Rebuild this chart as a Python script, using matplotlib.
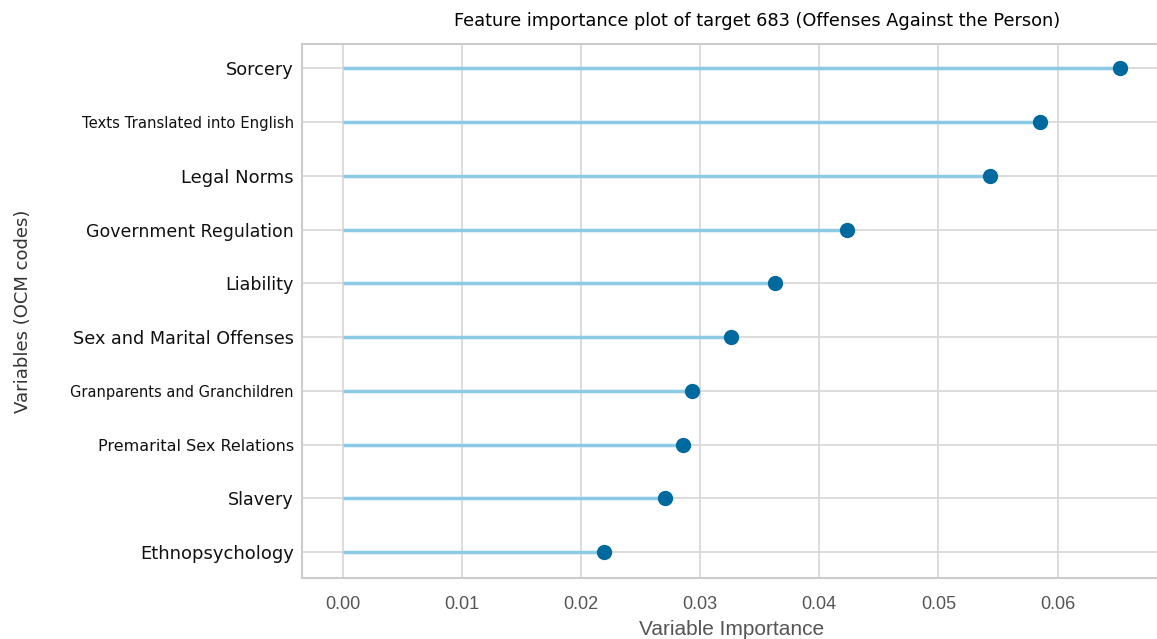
import matplotlib
matplotlib.use('Agg')
import matplotlib.pyplot as plt

features = ['Sorcery', 'Texts Translated into English', 'Legal Norms',
            'Government Regulation', 'Liability', 'Sex and Marital Offenses',
            'Granparents and Granchildren', 'Premarital Sex Relations',
            'Slavery', 'Ethnopsychology']
importance = [0.0652, 0.0585, 0.0543, 0.0423, 0.0363, 0.0326,
              0.0293, 0.0286, 0.0271, 0.0219]
xticks = [0.00, 0.01, 0.02, 0.03, 0.04, 0.05, 0.06]

# label sizes differ in the original picture
label_sizes = [12.8, 10.7, 13, 12.5, 12.6, 12.7, 10.5, 11.5, 12.6, 13]

fig = plt.figure(figsize=(11.57, 6.39), dpi=100)
ax = fig.add_axes([0.261, 0.0955, 0.786, 0.8355])

pos = list(range(len(features)))[::-1]
ax.hlines(pos, 0, importance, color='#8ccbe6', linewidth=2.5, zorder=2)
ax.plot(importance, pos, 'o', color='#00699e', markersize=10, zorder=3)

ax.set_xlim(-0.0034, 0.0729)
ax.set_ylim(-0.48, 9.45)
ax.set_yticks(pos)
ax.set_yticklabels(features, fontfamily='DejaVu Sans', color='#111111')
for lab, s in zip(ax.get_yticklabels(), label_sizes):
    lab.set_fontsize(s)
ax.set_xticks(xticks)
ax.set_xticklabels(['%.2f' % t for t in xticks], fontsize=13, color='#555555',
                   fontfamily='Liberation Sans')
ax.tick_params(axis='x', length=0, pad=13)
ax.tick_params(axis='y', length=0, pad=6)

ax.grid(True, color='#d9d9d9', linewidth=1.3, zorder=0)
ax.set_axisbelow(True)
for sp in ax.spines.values():
    sp.set_color('#cccccc')
    sp.set_linewidth(1.5)

ax.set_title('Feature importance plot of target 683 (Offenses Against the Person)',
             fontsize=12.8, fontfamily='DejaVu Sans', pad=13)
ax.set_xlabel('Variable Importance', fontsize=15, color='#555555',
              fontfamily='Liberation Sans')
ax.xaxis.set_label_coords(0.472, -0.078)
ax.set_ylabel('Variables (OCM codes)', fontsize=13, color='#333333',
              fontfamily='DejaVu Sans')
ax.yaxis.set_label_coords(-0.297, 0.5)

fig.savefig('out.png', dpi=100)
